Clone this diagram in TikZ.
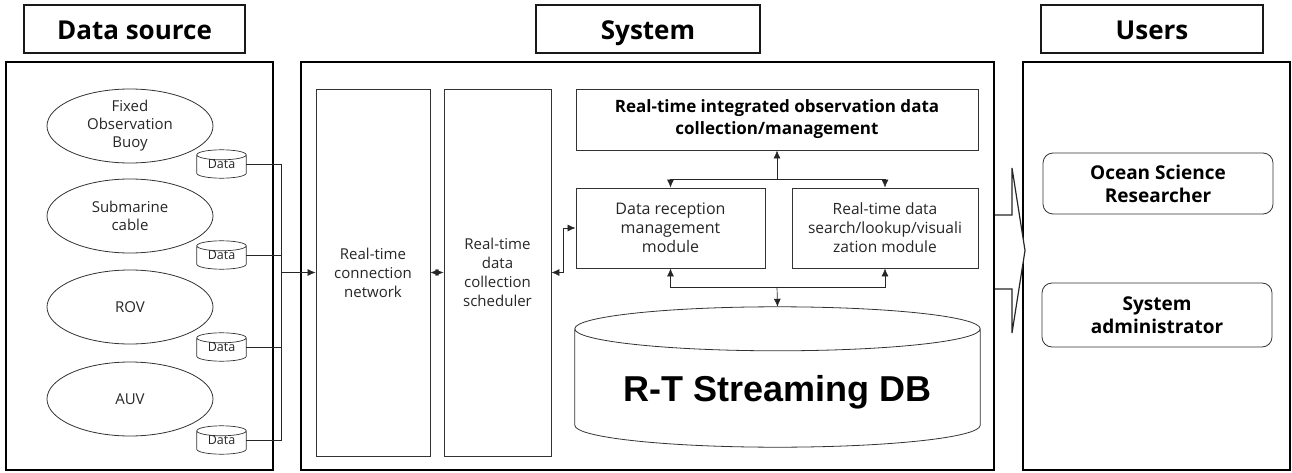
\documentclass[tikz,border=0pt]{standalone}
\usepackage{fontspec}
\setmainfont{Open Sans}
\newfontfamily\dbfont{Liberation Sans}
\usetikzlibrary{shapes.geometric,arrows.meta,calc}

% cylinder outline round a named node: #1 node, #2 radius of the end ellipse
\newcommand{\drawcyl}[3][]{%
  \draw[#1] let \p1=(#2.north west), \p2=(#2.south east), \n1={(\x2-\x1)/2} in
    (\x1,\y1-#3) -- (\x1,\y2+#3)
    arc[start angle=180, end angle=360, x radius=\n1, y radius=#3]
    -- (\x2,\y1-#3)
    (\x1+\n1,\y1-#3) ellipse[x radius=\n1, y radius=#3];}

\begin{document}
\begin{tikzpicture}[x=1pt, y=-1pt,
    panel/.style={draw=black, line width=1.8pt},
    headbox/.style={draw=black!90, line width=1.6pt, minimum width=221pt, minimum height=48pt,
        inner sep=0pt, text height=22pt, text depth=0pt,
        font=\fontsize{26}{30}\selectfont\bfseries},
    srcell/.style={ellipse, draw=black!80, line width=0.8pt, minimum width=166pt,
        minimum height=74pt, inner sep=0pt, align=center, text=black!85,
        font=\fontsize{15}{18}\selectfont},
    datacyl/.style={minimum width=49pt, minimum height=28pt, inner sep=0pt,
        text=black!85, font=\fontsize{12.5}{14}\selectfont},
    sysbox/.style={draw=black!80, line width=0.8pt, inner sep=0pt, align=center,
        text=black!85, font=\fontsize{15}{19}\selectfont},
    userbox/.style={draw=black!80, line width=0.8pt, rounded corners=10pt,
        minimum width=230pt, inner sep=0pt, align=center,
        font=\fontsize{19}{23}\selectfont\bfseries},
    link/.style={draw=black!85, line width=0.7pt},
    arr/.style={-{Latex[length=8pt,width=7pt]}},
    biarr/.style={{Latex[length=8pt,width=7pt]}-{Latex[length=8pt,width=7pt]}}
]
\useasboundingbox (0,0) rectangle (1292,473);

% ---headers
\node[headbox] (hsrc) at (134.5,29) {Data source};
\node[headbox, minimum width=224pt] (hsys) at (648,29) {System};
\node[headbox, minimum width=222pt] (husr) at (1152,29) {Users};

% ---panels
\draw[panel] (6,62) rectangle (273,470);
\draw[panel] (301,62) rectangle (994,470);
\draw[panel] (1023,62) rectangle (1290,470);

% ---data sources
\node[srcell] (buoy) at (130,126) {Fixed\\Observation\\Buoy};
\node[srcell] (cable) at (130,216) {Submarine\\cable};
\node[srcell] (rov) at (130,307) {ROV};
\node[srcell] (auv) at (130,399) {AUV};

\node[datacyl] (d1) at (221.5,164) {\raisebox{-2pt}{Data}};
\node[datacyl] (d2) at (221.5,255) {\raisebox{-2pt}{Data}};
\node[datacyl] (d3) at (221.5,347) {\raisebox{-2pt}{Data}};
\node[datacyl] (d4) at (221.5,440) {\raisebox{-2pt}{Data}};
\foreach \d in {d1,d2,d3,d4}
    \drawcyl[draw=black!80, line width=0.7pt]{\d}{5pt};

\coordinate (bus) at (281,272.5);
\foreach \d in {d1,d2,d3,d4}
    \draw[link] (\d.east) -| (bus);

% ---system
\node[sysbox, minimum width=114pt, minimum height=367pt] (net) at (373,272.5)
    {Real-time\\connection\\network};
\node[sysbox, minimum width=107pt, minimum height=367pt] (sched) at (497.5,272.5)
    {Real-time\\data\\collection\\scheduler};
\node[sysbox, minimum width=402pt, minimum height=61pt, text=black,
    font=\fontsize{17}{22}\selectfont\bfseries] (mgmt) at (777,119.5)
    {Real-time integrated observation data\\collection/management};
\node[sysbox, minimum width=189pt, minimum height=80pt,
    font=\fontsize{16}{19}\selectfont] (recv) at (670.5,228)
    {Data reception\\management\\module};
\node[sysbox, minimum width=186pt, minimum height=80pt,
    font=\fontsize{15.5}{19}\selectfont] (srch) at (885,228)
    {Real-time data\\search/lookup/visuali\\zation module};
\node[minimum width=405pt, minimum height=140pt, inner sep=0pt,
    label={[yshift=-15pt, font=\dbfont\fontsize{36}{40}\selectfont\bfseries]center:R-T Streaming DB}]
    (db) at (777.5,377) {};
\drawcyl[draw=black!80, line width=0.8pt]{db}{22pt}

\draw[link, arr] (bus) -- (net);
\draw[link, biarr] (net) -- (sched);
\draw[link, biarr] (sched.east) -- ++(12,0) |- (recv.west);

\coordinate (jtop) at (777,179);
\coordinate (jbot) at (777,287);
\draw[link, arr] (jtop) -- (mgmt.south);
\draw[link, arr] (jtop) -| (recv.north);
\draw[link, arr] (jtop) -| (srch.north);
\draw[link, arr] (jbot) -| (recv.south);
\draw[link, arr] (jbot) -| (srch.south);
\draw[link, arr] (jbot) -- (db.north);

% ---output arrow
\draw[black!85, line width=1.2pt, fill=white, line join=miter]
    (995,215) -- (1012,215) -- (1012,168) -- (1025,250.5)
    -- (1012,333) -- (1012,289) -- (995,289);

% ---users
\node[userbox, minimum height=61pt] (osr) at (1158,183.5) {Ocean Science\\Researcher};
\node[userbox, minimum height=64pt] (adm) at (1157,315) {System\\administrator};

\end{tikzpicture}
\end{document}
